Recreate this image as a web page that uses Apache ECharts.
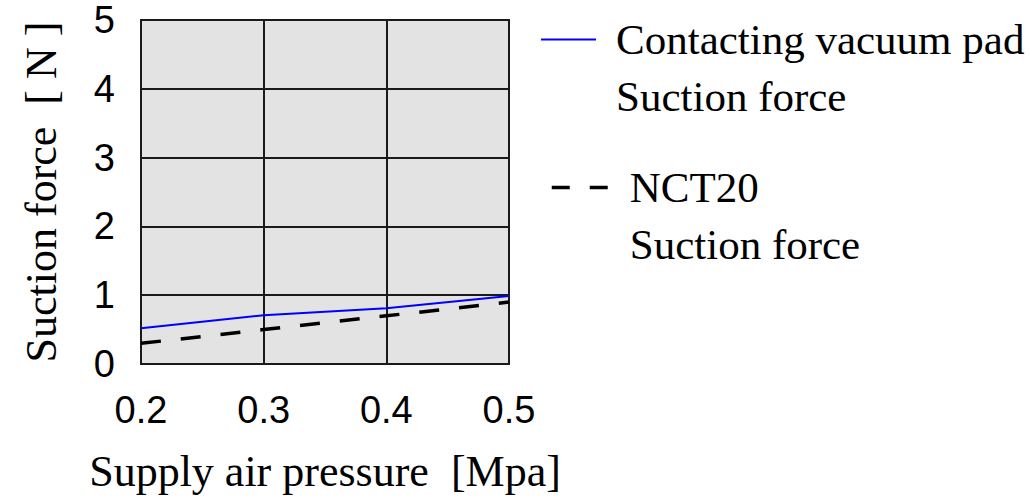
<!DOCTYPE html>
<html>
<head>
<meta charset="utf-8">
<script src="https://cdn.jsdelivr.net/npm/echarts@6/dist/echarts.min.js"></script>
<style>
  html, body { margin: 0; padding: 0; background: #fff; }
  #chart { width: 1030px; height: 498px; }
</style>
</head>
<body>
<div id="chart"></div>
<script>
var pressures = ['0.2', '0.3', '0.4', '0.5'];
var padForce = [0.52, 0.71, 0.81, 0.99];
var nctForce = [0.30, 0.50, 0.70, 0.90];
var yTicks = { min: 0, max: 5, interval: 1 };

var serif = "'Liberation Serif', 'Times New Roman', serif";
var sans = "'Liberation Sans', Arial, sans-serif";

var chart = echarts.init(document.getElementById('chart'), null, { renderer: 'svg' });

function legendText(pad) {
  return {
    fontFamily: serif,
    fontSize: 43,
    color: '#000',
    lineHeight: 57,
    padding: [0, 0, 0, pad]
  };
}

function legendLabel(name) {
  // blank first line keeps the icon level with the series name
  return '\n' + name + '\nSuction force';
}

chart.setOption({
  animation: false,
  backgroundColor: '#fff',
  grid: {
    left: 141,
    top: 20,
    right: 521,
    bottom: 129,
    show: true,
    backgroundColor: '#e3e3e3',
    borderColor: '#1a1a1a',
    borderWidth: 2
  },
  legend: [{
    data: ['Contacting vacuum pad'],
    left: 535,
    top: -51,
    itemWidth: 55,
    itemHeight: 4,
    itemStyle: { opacity: 0 },
    lineStyle: { color: '#0000ff', width: 2 },
    textStyle: legendText(15),
    formatter: legendLabel
  }, {
    data: ['NCT20'],
    left: 545,
    top: 97,
    itemWidth: 56,
    itemHeight: 4,
    itemStyle: { opacity: 0 },
    lineStyle: { color: '#000', width: 3.5, type: [18, 20] },
    textStyle: legendText(17),
    formatter: legendLabel
  }],
  xAxis: {
    type: 'category',
    data: pressures,
    boundaryGap: false,
    name: 'Supply air pressure  [Mpa]',
    nameLocation: 'middle',
    nameGap: 85,
    nameTextStyle: { fontFamily: serif, fontSize: 44, color: '#000' },
    axisLine: { show: false },
    axisTick: { show: false },
    axisLabel: { fontFamily: sans, fontSize: 38, color: '#000', margin: 27 },
    splitLine: { show: true, lineStyle: { color: '#1a1a1a', width: 2 } }
  },
  yAxis: {
    type: 'value',
    min: yTicks.min,
    max: yTicks.max,
    interval: yTicks.interval,
    name: 'Suction force  [ N ]',
    nameLocation: 'middle',
    nameRotate: 90,
    nameGap: 78,
    nameTextStyle: { fontFamily: serif, fontSize: 44, color: '#000' },
    axisLine: { show: false },
    axisTick: { show: false },
    axisLabel: { fontFamily: sans, fontSize: 38, color: '#000', margin: 26 },
    splitLine: { show: true, lineStyle: { color: '#1a1a1a', width: 2 } }
  },
  series: [{
    name: 'Contacting vacuum pad',
    type: 'line',
    data: padForce,
    symbol: 'none',
    lineStyle: { color: '#0000ff', width: 2 },
    itemStyle: { color: '#0000ff' }
  }, {
    name: 'NCT20',
    type: 'line',
    data: nctForce,
    symbol: 'none',
    lineStyle: { color: '#000', width: 3.5, type: [20, 20] },
    itemStyle: { color: '#000' }
  }]
});
</script>
</body>
</html>
